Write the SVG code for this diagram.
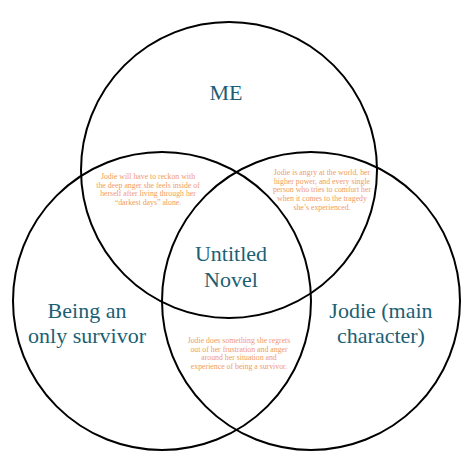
<svg xmlns="http://www.w3.org/2000/svg" width="474" height="474" viewBox="0 0 474 474">
<style>
.c{fill:none;stroke:#000;stroke-width:2}
.big{font-family:'Liberation Serif','DejaVu Serif',serif;font-size:22px;fill:#1c5f74;text-anchor:middle}
.small{font-family:'Liberation Serif','DejaVu Serif',serif;font-size:7.8px;fill:#f19a62;text-anchor:middle}
</style>
<rect width="474" height="474" fill="#fff"/>
<g id="circle-me"><circle class="c" cx="229" cy="170" r="148"/></g>
<g id="circle-survivor"><circle class="c" cx="162" cy="301" r="149"/></g>
<g id="circle-jodie"><circle class="c" cx="311" cy="301" r="149"/></g>
<g id="label-me"><text class="big" x="226" y="100">ME</text></g>
<g id="label-novel"><text class="big" x="231" y="261">Untitled</text><text class="big" x="231" y="287">Novel</text></g>
<g id="label-survivor"><text class="big" x="87" y="318">Being an</text><text class="big" x="87" y="343">only survivor</text></g>
<g id="label-jodie"><text class="big" x="381" y="318">Jodie (main</text><text class="big" x="381" y="343">character)</text></g>
<g id="text-me-survivor">
<text class="small" x="148" y="179">Jodie will have to reckon with</text>
<text class="small" x="148" y="188">the deep anger she feels inside of</text>
<text class="small" x="148" y="196">herself after living through her</text>
<text class="small" x="148" y="205">“darkest days” alone.</text>
</g>
<g id="text-me-jodie">
<text class="small" x="322" y="175">Jodie is angry at the world, her</text>
<text class="small" x="322" y="184">higher power, and every single</text>
<text class="small" x="322" y="192">person who tries to comfort her</text>
<text class="small" x="322" y="201">when it comes to the tragedy</text>
<text class="small" x="322" y="210">she’s experienced.</text>
</g>
<g id="text-survivor-jodie">
<text class="small" x="239" y="343">Jodie does something she regrets</text>
<text class="small" x="239" y="352">out of her frustration and anger</text>
<text class="small" x="239" y="360">around her situation and</text>
<text class="small" x="239" y="369">experience of being a survivor.</text>
</g>
</svg>
